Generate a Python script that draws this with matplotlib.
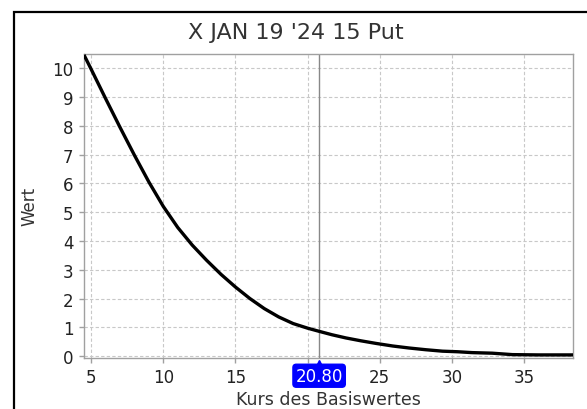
import matplotlib
matplotlib.use("Agg")
import matplotlib.pyplot as plt
import matplotlib.transforms as mtransforms
from matplotlib.patches import Rectangle

# Werte
kurs = [4.55, 5, 6, 7, 8, 9, 10, 11, 12, 13, 14, 15, 16, 17, 18, 19, 20, 20.8, 21.7,
        22.66, 23.7, 24.74, 25.9, 27.04, 28.2, 29.35, 30.4, 31.4, 32.8, 34.2, 36.0, 38.5]
wert = [10.42, 9.97, 8.95, 7.95, 6.98, 6.05, 5.2, 4.47, 3.86, 3.33, 2.84, 2.4, 2.0, 1.65,
        1.36, 1.13, 0.97, 0.86, 0.74, 0.63, 0.53, 0.44, 0.35, 0.28, 0.22, 0.17, 0.15, 0.12,
        0.1, 0.05, 0.04, 0.04]
x_ticks = [5, 10, 15, 20, 25, 30, 35]
x_labels = ["5", "10", "15", "", "25", "30", "35"]
y_ticks = list(range(0, 11))
kurs_aktuell = 20.80
titel = "X JAN 19 '24 15 Put"

fig = plt.figure(figsize=(5.87, 4.10), dpi=100)
ax = fig.add_axes([84 / 587, 1 - 358.5 / 410, (573 - 84) / 587, (358.5 - 54.5) / 410])

# äußerer Rahmen
fig.patches.append(Rectangle((14 / 587, -0.2), 1.2, 1.2 - 13 / 410, transform=fig.transFigure,
                             fill=False, edgecolor="black", lw=1.6))

ax.plot(kurs, wert, color="black", lw=2.4, zorder=3)
ax.axvline(kurs_aktuell, color="#888888", lw=1.0, zorder=2)

ax.set_xlim(4.5, 38.4)
ax.set_ylim(-0.05, 10.52)
ax.set_xticks(x_ticks)
ax.set_xticklabels(x_labels)
ax.set_yticks(y_ticks)

ax.grid(True, color="#c8c8c8", linestyle=(0, (3, 2)), lw=0.8)
for s in ax.spines.values():
    s.set_color("#a0a0a0")
    s.set_linewidth(1.0)
ax.tick_params(axis="both", colors="#a0a0a0", labelcolor="#222222", labelsize=12,
               length=3.5, width=1.0, pad=4)

fig.text(296 / 587, 1 - 33 / 410, titel, fontsize=16, color="#333333", ha="center", va="center")
ax.set_ylabel("Wert", fontsize=12, color="#333333", labelpad=10)
ax.set_xlabel("Kurs des Basiswertes", fontsize=12.5, color="#333333", labelpad=3)

# blaue Markierung für den aktuellen Kurs
trans = mtransforms.blended_transform_factory(ax.transData, ax.transAxes)
ax.plot([kurs_aktuell], [-0.02], marker="^", color="#0000ff", markersize=6,
        transform=trans, clip_on=False, zorder=5)
ax.text(kurs_aktuell, -0.06, "%.2f" % kurs_aktuell, transform=trans, ha="center", va="center",
        fontsize=12, color="white", clip_on=False, zorder=6,
        bbox=dict(boxstyle="round,pad=0.15,rounding_size=0.2", facecolor="#0000ff",
                  edgecolor="#0000ff"))

fig.savefig("out.png", dpi=100)
